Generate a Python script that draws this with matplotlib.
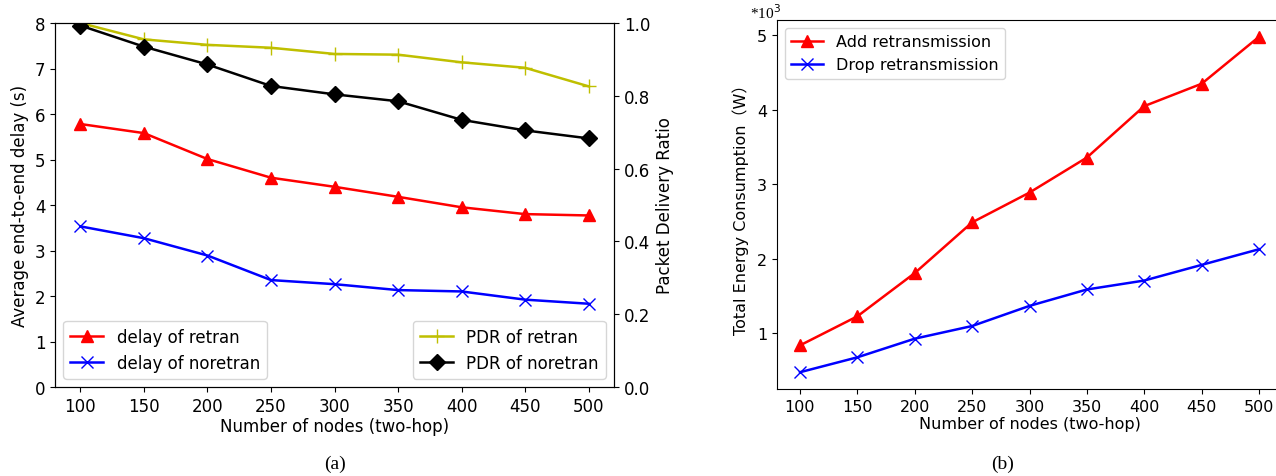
import numpy as np
import matplotlib
matplotlib.use('Agg')
import matplotlib.pyplot as plt

nodes = [100, 150, 200, 250, 300, 350, 400, 450, 500]

delay_retran = [5.78, 5.58, 5.01, 4.60, 4.40, 4.18, 3.95, 3.80, 3.77]
delay_noretran = [3.53, 3.27, 2.89, 2.35, 2.26, 2.13, 2.10, 1.92, 1.83]
pdr_retran = [1.0, 0.955, 0.940, 0.932, 0.915, 0.913, 0.892, 0.877, 0.826]
pdr_noretran = [0.993, 0.935, 0.886, 0.827, 0.804, 0.785, 0.734, 0.705, 0.683]

energy_add = [0.84, 1.23, 1.81, 2.49, 2.89, 3.36, 4.05, 4.35, 4.98]
energy_drop = [0.48, 0.68, 0.93, 1.10, 1.37, 1.59, 1.71, 1.92, 2.13]

plt.rcParams['font.size'] = 12
plt.rcParams['lines.linewidth'] = 1.8
fig = plt.figure(figsize=(12.76, 4.77), dpi=100)

# (a) delay + PDR
ax1 = fig.add_axes([55/1276, 1-388/477, (614-55)/1276, (388-24)/477])
ax1.plot(nodes, delay_retran, 'r^-', ms=9, label='delay of retran')
ax1.plot(nodes, delay_noretran, 'bx-', ms=9, label='delay of noretran')
ax1.set_ylim(0, 8)
ax1.set_xticks(nodes)
ax1.set_ylabel('Average end-to-end delay (s)', labelpad=4)
ax1.set_xlabel('Number of nodes (two-hop)', labelpad=2)
ax1.legend(loc='lower left', fontsize=12)

ax2 = ax1.twinx()
ax2.plot(nodes, pdr_retran, '+-', color='#bfbf00', ms=10, label='PDR of retran')
ax2.plot(nodes, pdr_noretran, 'kD-', ms=8, label='PDR of noretran')
ax2.set_ylim(0, 1.0)
ax2.set_ylabel('Packet Delivery Ratio')
ax2.legend(loc='lower right', fontsize=12)

fig.text(335/1276, 1-464/477, '(a)', family='Liberation Serif', fontsize=14,
         ha='center', va='center')

# (b) energy
ax3 = fig.add_axes([777/1276, 1-390/477, (1282-777)/1276, (390-21)/477])
ax3.plot(nodes, energy_add, 'r^-', ms=9, label='Add retransmission')
ax3.plot(nodes, energy_drop, 'bx-', ms=8, label='Drop retransmission')
ax3.set_xticks(nodes)
ax3.set_yticks([1, 2, 3, 4, 5])
ax3.tick_params(labelsize=11.5)
ax3.set_xlabel('Number of nodes (two-hop)', labelpad=2, fontsize=11.5)
ax3.set_ylabel('Total Energy Consumption（W）', family=['DejaVu Sans', 'Noto Sans CJK SC'],
               labelpad=6, fontsize=11.5)
ax3.legend(loc='upper left', fontsize=11.5)
fig.text(750/1276, 1-19/477, r'*10$^3$', family='Liberation Serif',
         fontsize=11, va='baseline', ha='left')

fig.text(1003/1276, 1-464/477, '(b)', family='Liberation Serif', fontsize=14,
         ha='center', va='center')

fig.savefig('out.png', dpi=100)
